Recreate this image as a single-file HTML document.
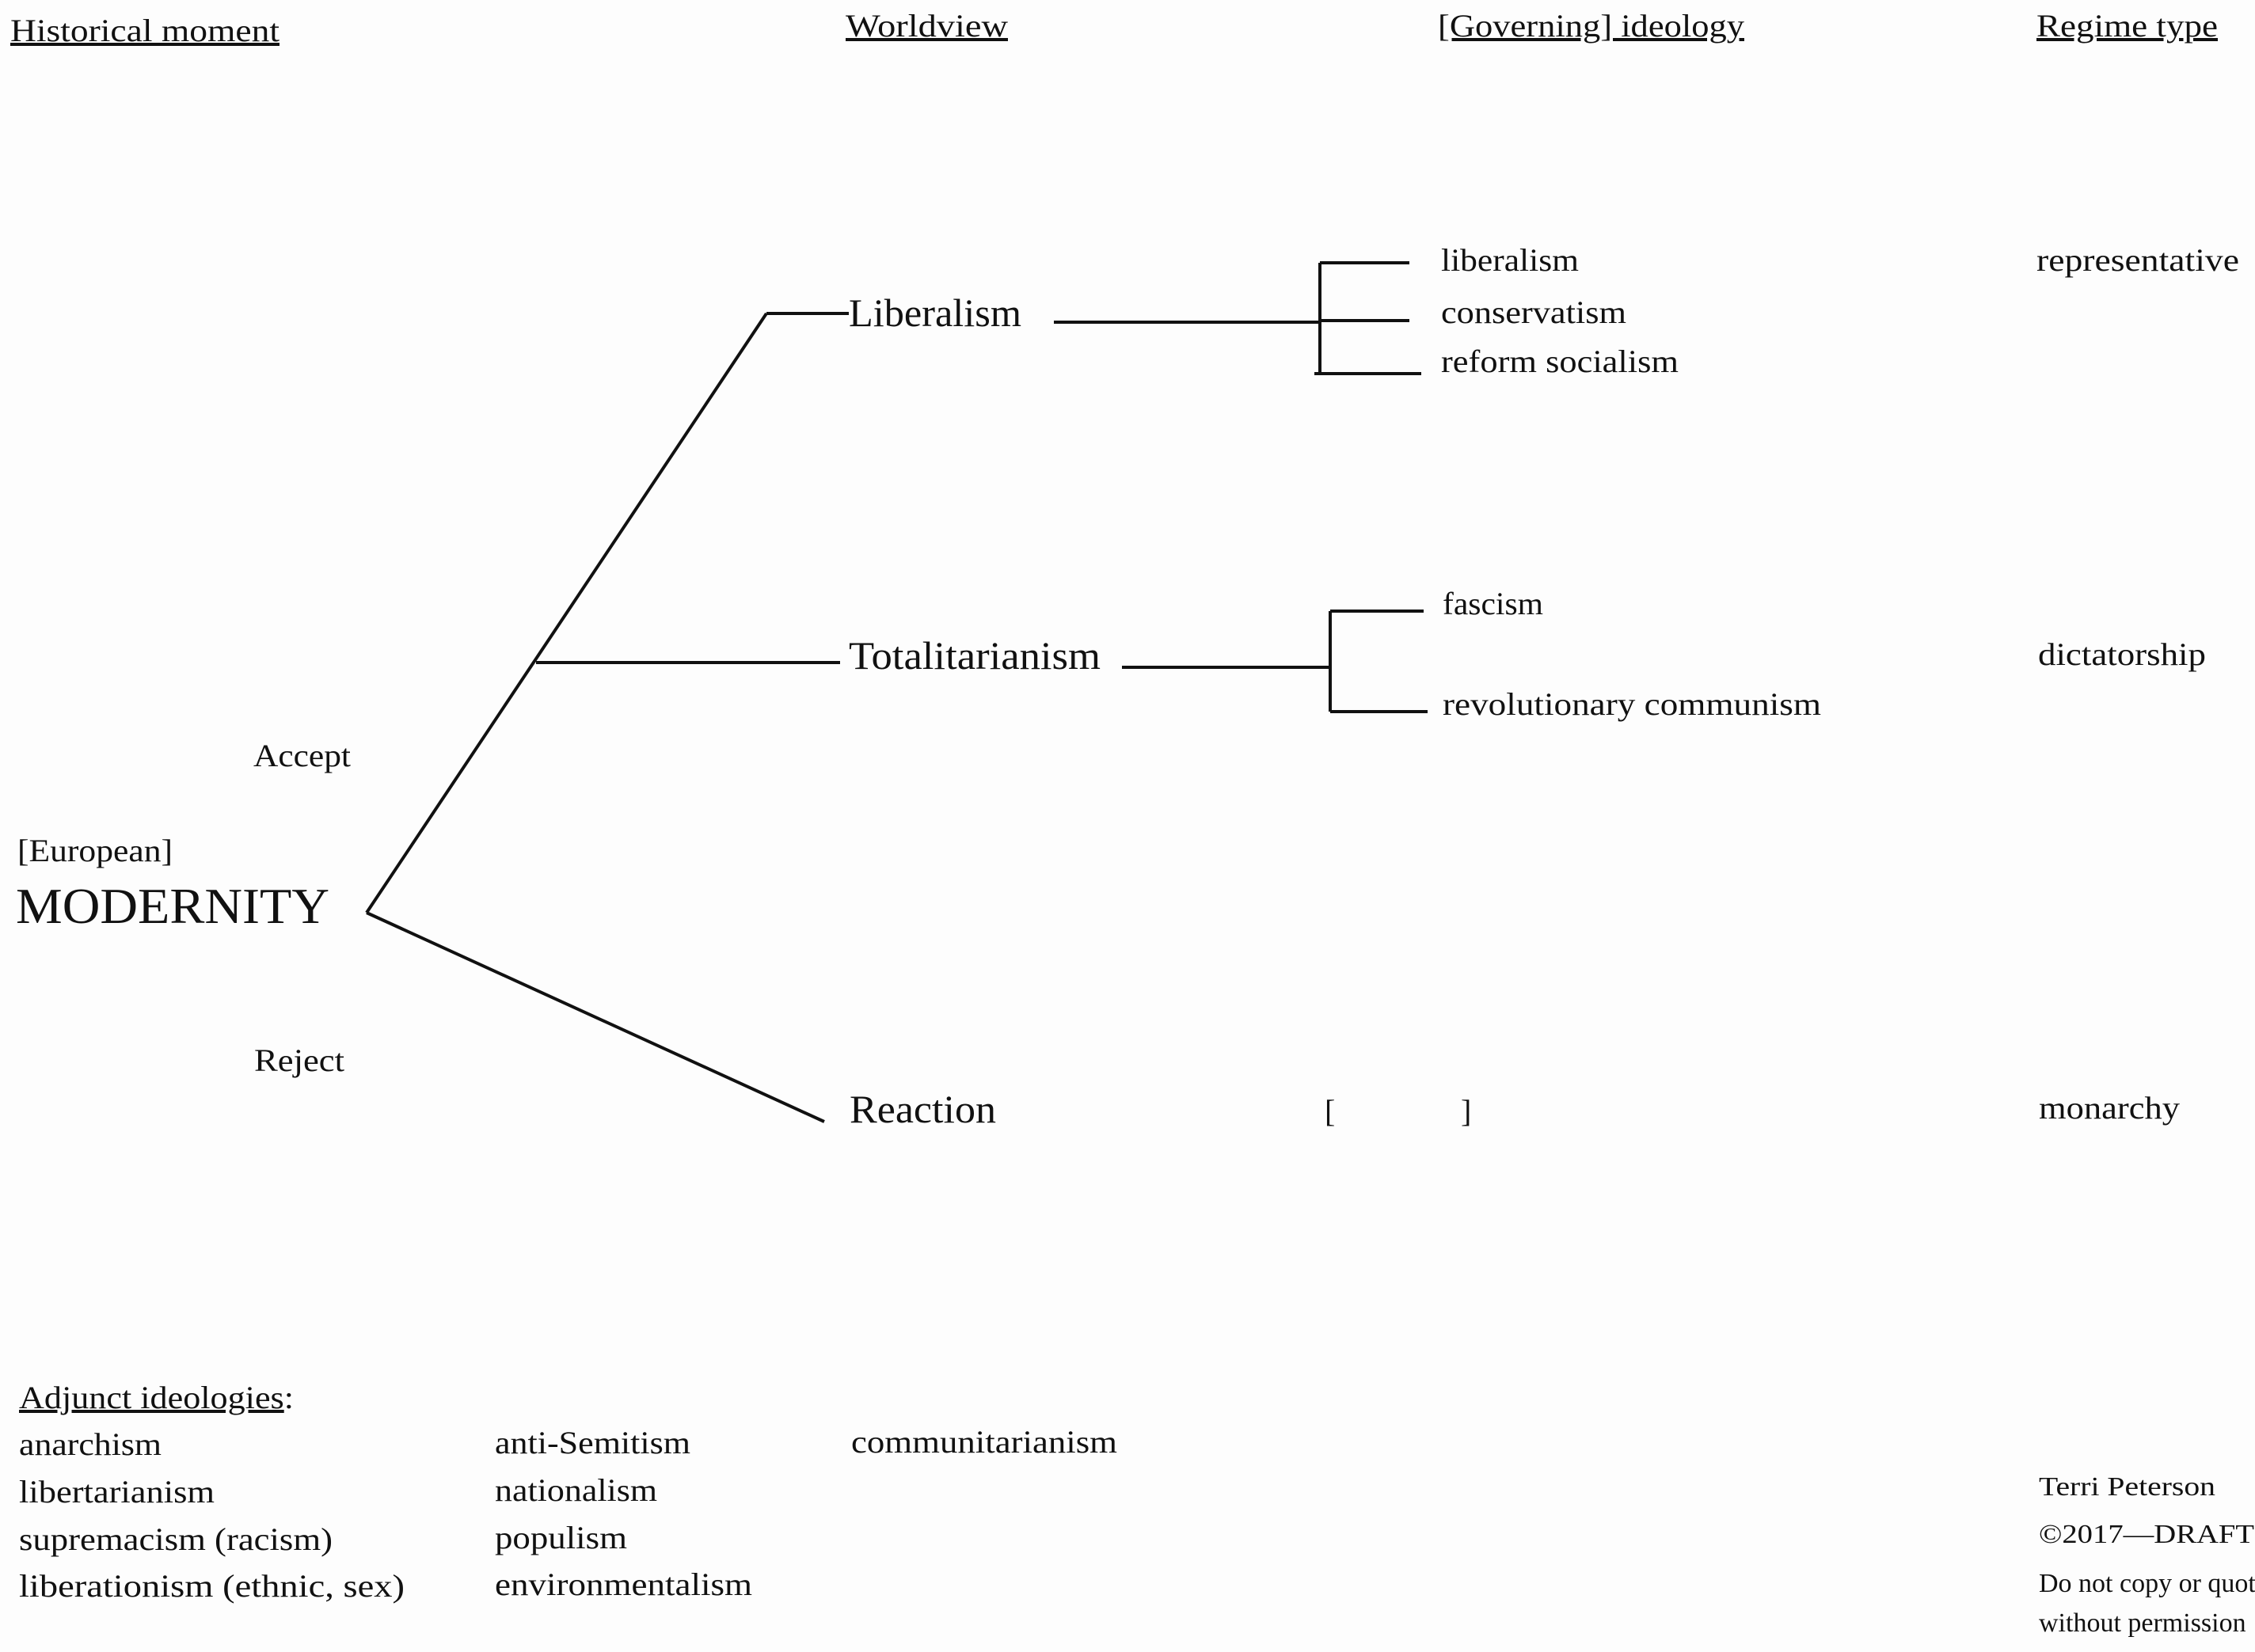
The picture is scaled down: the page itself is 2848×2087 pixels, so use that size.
<!DOCTYPE html>
<html><head><meta charset="utf-8"><style>
html,body{margin:0;padding:0;background:#fdfdfd;}
svg{display:block;}
text{font-family:"Liberation Serif",serif;fill:#111;}
</style></head><body>
<svg width="2848" height="2087" viewBox="0 0 2848 2087" xmlns="http://www.w3.org/2000/svg">
<rect width="2848" height="2087" fill="#fdfdfd"/>
<g font-size="40" lengthAdjust="spacingAndGlyphs">
<text x="13" y="52" text-decoration="underline" textLength="340" lengthAdjust="spacingAndGlyphs">Historical moment</text>
<text x="1068" y="46" text-decoration="underline" textLength="205" lengthAdjust="spacingAndGlyphs">Worldview</text>
<text x="1816" y="46" text-decoration="underline" textLength="387" lengthAdjust="spacingAndGlyphs">[Governing] ideology</text>
<text x="2572" y="46" text-decoration="underline" textLength="229" lengthAdjust="spacingAndGlyphs">Regime type</text>
</g>
<g stroke="#111" stroke-width="4" fill="none">
<line x1="463" y1="1153" x2="968" y2="396"/>
<line x1="968" y1="396" x2="1072" y2="396"/>
<line x1="677" y1="837" x2="1061" y2="837"/>
<line x1="463" y1="1153" x2="1041" y2="1417"/>
<line x1="1331" y1="407" x2="1667" y2="407"/>
<line x1="1667" y1="332" x2="1667" y2="472"/>
<line x1="1667" y1="332" x2="1780" y2="332"/>
<line x1="1667" y1="405" x2="1780" y2="405"/>
<line x1="1660" y1="472" x2="1795" y2="472"/>
<line x1="1417" y1="843" x2="1680" y2="843"/>
<line x1="1680" y1="772" x2="1680" y2="899"/>
<line x1="1680" y1="772" x2="1798" y2="772"/>
<line x1="1680" y1="899" x2="1803" y2="899"/>
</g>
<g font-size="40">
<text x="1820" y="342" textLength="174" lengthAdjust="spacingAndGlyphs">liberalism</text>
<text x="1820" y="408" textLength="234" lengthAdjust="spacingAndGlyphs">conservatism</text>
<text x="1820" y="470" textLength="300" lengthAdjust="spacingAndGlyphs">reform socialism</text>
<text x="2572" y="342" textLength="256" lengthAdjust="spacingAndGlyphs">representative</text>
<text x="1822" y="776" textLength="127" lengthAdjust="spacingAndGlyphs">fascism</text>
<text x="1822" y="903" textLength="478" lengthAdjust="spacingAndGlyphs">revolutionary communism</text>
<text x="2574" y="840" textLength="212" lengthAdjust="spacingAndGlyphs">dictatorship</text>
<text x="2575" y="1413" textLength="178" lengthAdjust="spacingAndGlyphs">monarchy</text>
<text x="1673" y="1417">[</text>
<text x="1845" y="1417">]</text>
<text x="320" y="968" textLength="123" lengthAdjust="spacingAndGlyphs">Accept</text>
<text x="321" y="1353" textLength="114" lengthAdjust="spacingAndGlyphs">Reject</text>
<text x="22" y="1088" textLength="196" lengthAdjust="spacingAndGlyphs">[European]</text>
</g>
<g font-size="50">
<text x="1072" y="412" textLength="218" lengthAdjust="spacingAndGlyphs">Liberalism</text>
<text x="1072" y="845" textLength="318" lengthAdjust="spacingAndGlyphs">Totalitarianism</text>
<text x="1073" y="1418" textLength="185" lengthAdjust="spacingAndGlyphs">Reaction</text>
</g>
<text x="20" y="1166" font-size="64" textLength="396" lengthAdjust="spacingAndGlyphs">MODERNITY</text>
<g font-size="40">
<text x="24" y="1779" textLength="347" lengthAdjust="spacingAndGlyphs"><tspan text-decoration="underline">Adjunct ideologies</tspan>:</text>
<text x="24" y="1838" textLength="180" lengthAdjust="spacingAndGlyphs">anarchism</text>
<text x="24" y="1898" textLength="247" lengthAdjust="spacingAndGlyphs">libertarianism</text>
<text x="24" y="1958" textLength="396" lengthAdjust="spacingAndGlyphs">supremacism (racism)</text>
<text x="24" y="2017" textLength="487" lengthAdjust="spacingAndGlyphs">liberationism  (ethnic, sex)</text>
<text x="625" y="1836" textLength="247" lengthAdjust="spacingAndGlyphs">anti-Semitism</text>
<text x="625" y="1896" textLength="205" lengthAdjust="spacingAndGlyphs">nationalism</text>
<text x="625" y="1956" textLength="167" lengthAdjust="spacingAndGlyphs">populism</text>
<text x="625" y="2015" textLength="325" lengthAdjust="spacingAndGlyphs">environmentalism</text>
<text x="1075" y="1835" textLength="336" lengthAdjust="spacingAndGlyphs">communitarianism</text>
</g>
<g font-size="34">
<text x="2575" y="1889" textLength="223" lengthAdjust="spacingAndGlyphs">Terri Peterson</text>
<text x="2575" y="1949" textLength="272" lengthAdjust="spacingAndGlyphs">©2017—DRAFT</text>
<text x="2575" y="2011">Do not copy or quote</text>
<text x="2575" y="2061">without permission</text>
</g>
</svg>
</body></html>
